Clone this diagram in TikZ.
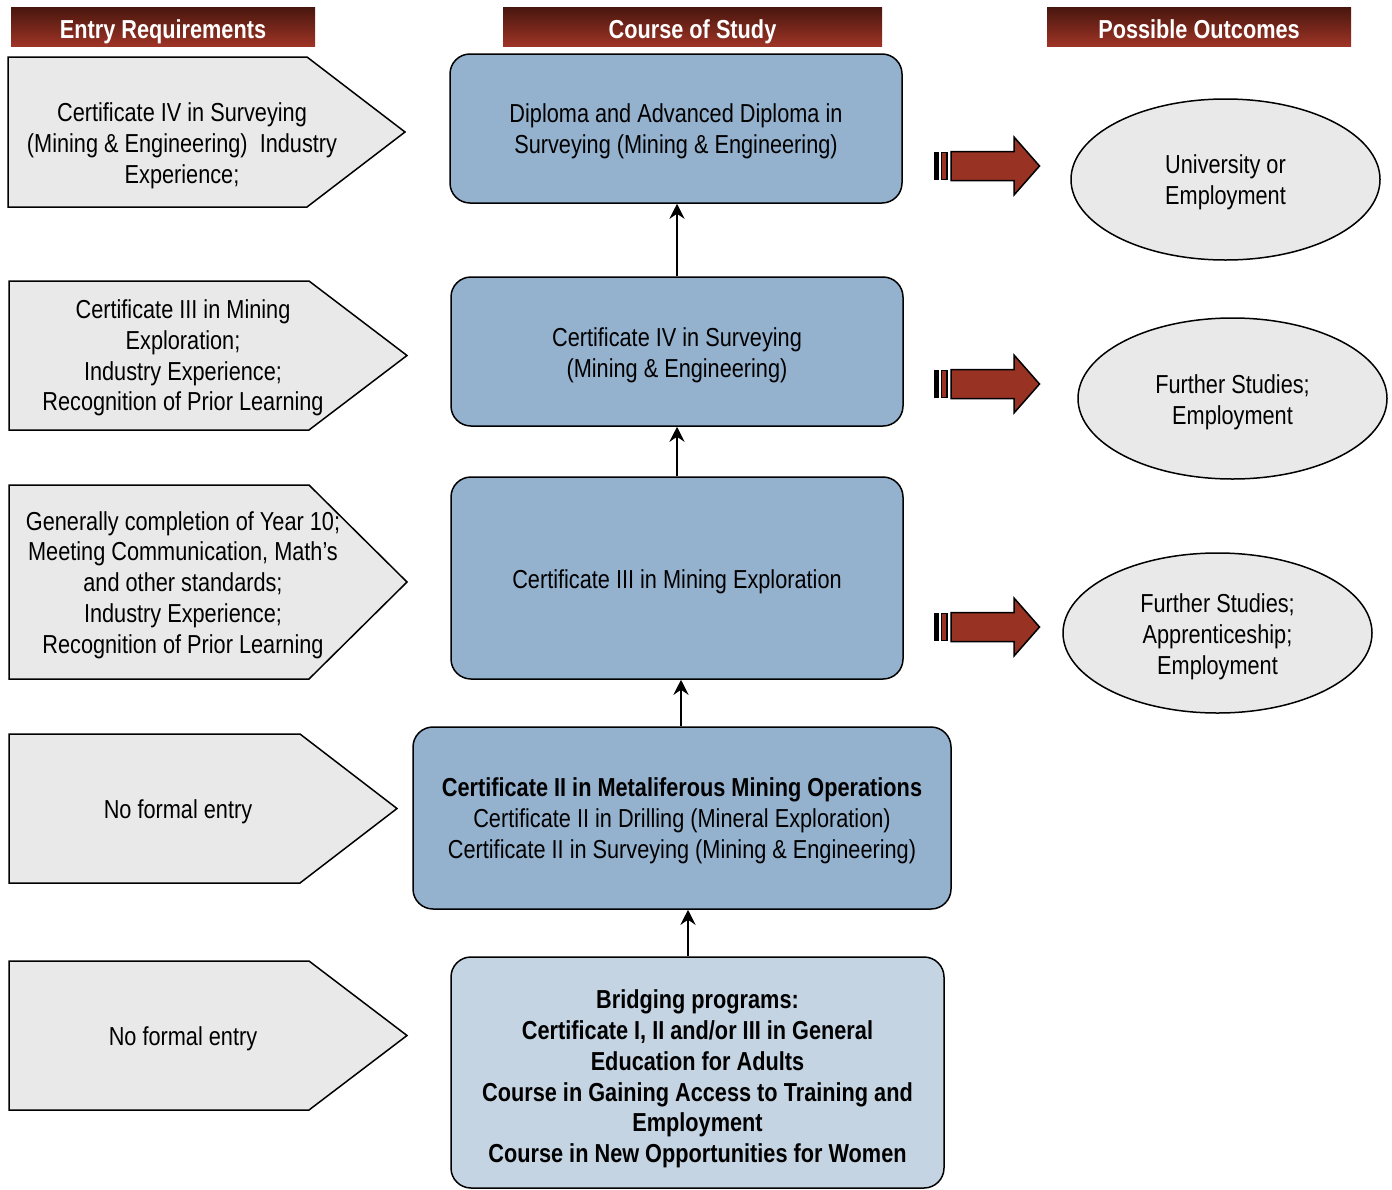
\documentclass[tikz,border=0pt]{standalone}
\usepackage{fontspec}
\setmainfont{Liberation Sans}[FakeStretch=0.835]
\usetikzlibrary{arrows.meta,shapes.geometric}
\definecolor{hdrtop}{RGB}{72,22,14}
\definecolor{hdrbot}{RGB}{158,52,38}
\definecolor{redarr}{RGB}{152,51,36}
\definecolor{boxblue}{RGB}{148,177,206}
\definecolor{boxlight}{RGB}{196,212,226}
\definecolor{grayfill}{RGB}{233,233,233}
\newcommand\txtfont{\fontsize{26}{30.8}\selectfont}
\newcommand\redarrow[2]{%
  \begin{scope}[shift={(0,#1)}]
    \fill[black] (933.5,-14) rectangle (938.5,14);
    \draw[fill=redarr,line width=1.3pt] (941.5,-13.5) rectangle (947,13.5);
    \draw[bigarr] (951,-14.5) -- (1014,-14.5) -- (1014,-29) -- (1039.5,0)
      -- (1014,29) -- (1014,14.5) -- (951,14.5) -- cycle;
    \coordinate (#2) at (1039.5,0);
  \end{scope}}
\begin{document}
\begin{tikzpicture}[x=1pt,y=-1pt,
  hdr/.style={top color=hdrtop,bottom color=hdrbot,inner sep=0pt,minimum height=39pt},
  hdrtxt/.style={text=white,font=\fontsize{26}{31}\selectfont\bfseries,inner sep=0pt,anchor=base},
  cbox/.style={draw=black,line width=1.5pt,rounded corners=20pt,fill=boxblue,inner sep=0pt},
  ell/.style={ellipse,draw=black,fill=grayfill,line width=1.5pt,inner sep=0pt},
  pent/.style={draw=black,fill=grayfill,line width=1.5pt,line join=miter},
  lbl/.style={align=center,font=\txtfont,inner sep=0pt},
  upar/.style={line width=2.8pt,-{Stealth[length=15pt,width=15pt,inset=5pt]}},
  bigarr/.style={fill=redarr,draw=black,line width=1.5pt,line join=miter}]
\useasboundingbox (0,0) rectangle (1392,1189);
\clip (0,0) rectangle (1392,1189);

% headers
\node[hdr,minimum width=304pt] (h1) at (163,26.5) {};
\node[hdrtxt] (h1t) at (163,38) {Entry Requirements};
\node[hdr,minimum width=379pt] (h2) at (692.5,26.5) {};
\node[hdrtxt] (h2t) at (692.5,38) {Course of Study};
\node[hdr,minimum width=304pt] (h3) at (1199,26.5) {};
\node[hdrtxt] (h3t) at (1199,38) {Possible Outcomes};

% entry requirement pentagons
\draw[pent] (8,57) -- (307,57) -- (405,132) -- (307,207) -- (8,207) -- cycle;
\node[lbl] (e1) at (182,146) {Certificate IV in Surveying\\(Mining \& Engineering)\ \ Industry\\Experience;};
\draw[pent] (9,281) -- (309,281) -- (407,355.5) -- (309,430) -- (9,430) -- cycle;
\node[lbl] (e2) at (183,358) {Certificate III in Mining\\Exploration;\\Industry Experience;\\Recognition of Prior Learning};
\draw[pent] (9,485) -- (309,485) -- (407,582) -- (309,679) -- (9,679) -- cycle;
\node[lbl] (e3) at (183,585) {Generally completion of Year 10;\\Meeting Communication, Math’s\\and other standards;\\Industry Experience;\\Recognition of Prior Learning};
\draw[pent] (9,734) -- (300,734) -- (397,808.5) -- (300,883) -- (9,883) -- cycle;
\node[lbl] (e4) at (178,812) {No formal entry};
\draw[pent] (9,961) -- (309,961) -- (407,1035.5) -- (309,1110) -- (9,1110) -- cycle;
\node[lbl] (e5) at (183,1039) {No formal entry};

% course boxes
\node[cbox,minimum width=452pt,minimum height=149pt] (b1) at (676,128.5) {};
\node[lbl] (b1t) at (676,131.5) {Diploma and Advanced Diploma in\\Surveying (Mining \& Engineering)};
\node[cbox,minimum width=452pt,minimum height=149pt] (b2) at (677,351.5) {};
\node[lbl] (b2t) at (677,355) {Certificate IV in Surveying\\(Mining \& Engineering)};
\node[cbox,minimum width=452pt,minimum height=202pt] (b3) at (677,578) {};
\node[lbl] (b3t) at (677,582) {Certificate III in Mining Exploration};
\node[cbox,minimum width=538pt,minimum height=182pt] (b4) at (682,818) {};
\node[lbl] (b4t) at (682,821)
  {\textbf{Certificate II in Metaliferous Mining Operations}\\Certificate II in Drilling (Mineral Exploration)\\Certificate II in Surveying (Mining \& Engineering)};
\node[cbox,fill=boxlight,minimum width=493pt,minimum height=231pt] (b5) at (697.5,1072.5) {};
\node[lbl,font=\txtfont\bfseries] (b5t) at (697.5,1079)
  {Bridging programs:\\Certificate I, II and/or III in General\\Education for Adults\\Course in Gaining Access to Training and\\Employment\\Course in New Opportunities for Women};

% vertical arrows
\coordinate (xa) at (677,0);
\coordinate (xb) at (681,0);
\coordinate (xc) at (688,0);
\draw[upar] (b2.north -| xa) -- (b1.south -| xa);
\draw[upar] (b3.north -| xa) -- (b2.south -| xa);
\draw[upar] (b4.north -| xb) -- (b3.south -| xb);
\draw[upar] (b5.north -| xc) -- (b4.south -| xc);

% outcome arrows
\redarrow{166}{r1}
\redarrow{384}{r2}
\redarrow{627}{r3}

% outcomes
\node[ell,minimum width=309pt,minimum height=161pt] (o1) at (1225.5,179.5) {};
\node[lbl] (o1t) at (1225.5,182.5) {University or\\Employment};
\node[ell,minimum width=309pt,minimum height=161pt] (o2) at (1232.5,398.5) {};
\node[lbl] (o2t) at (1232.5,402) {Further Studies;\\Employment};
\node[ell,minimum width=309pt,minimum height=160pt] (o3) at (1217.5,633) {};
\node[lbl] (o3t) at (1217.5,636.5) {Further Studies;\\Apprenticeship;\\Employment};
\end{tikzpicture}
\end{document}
